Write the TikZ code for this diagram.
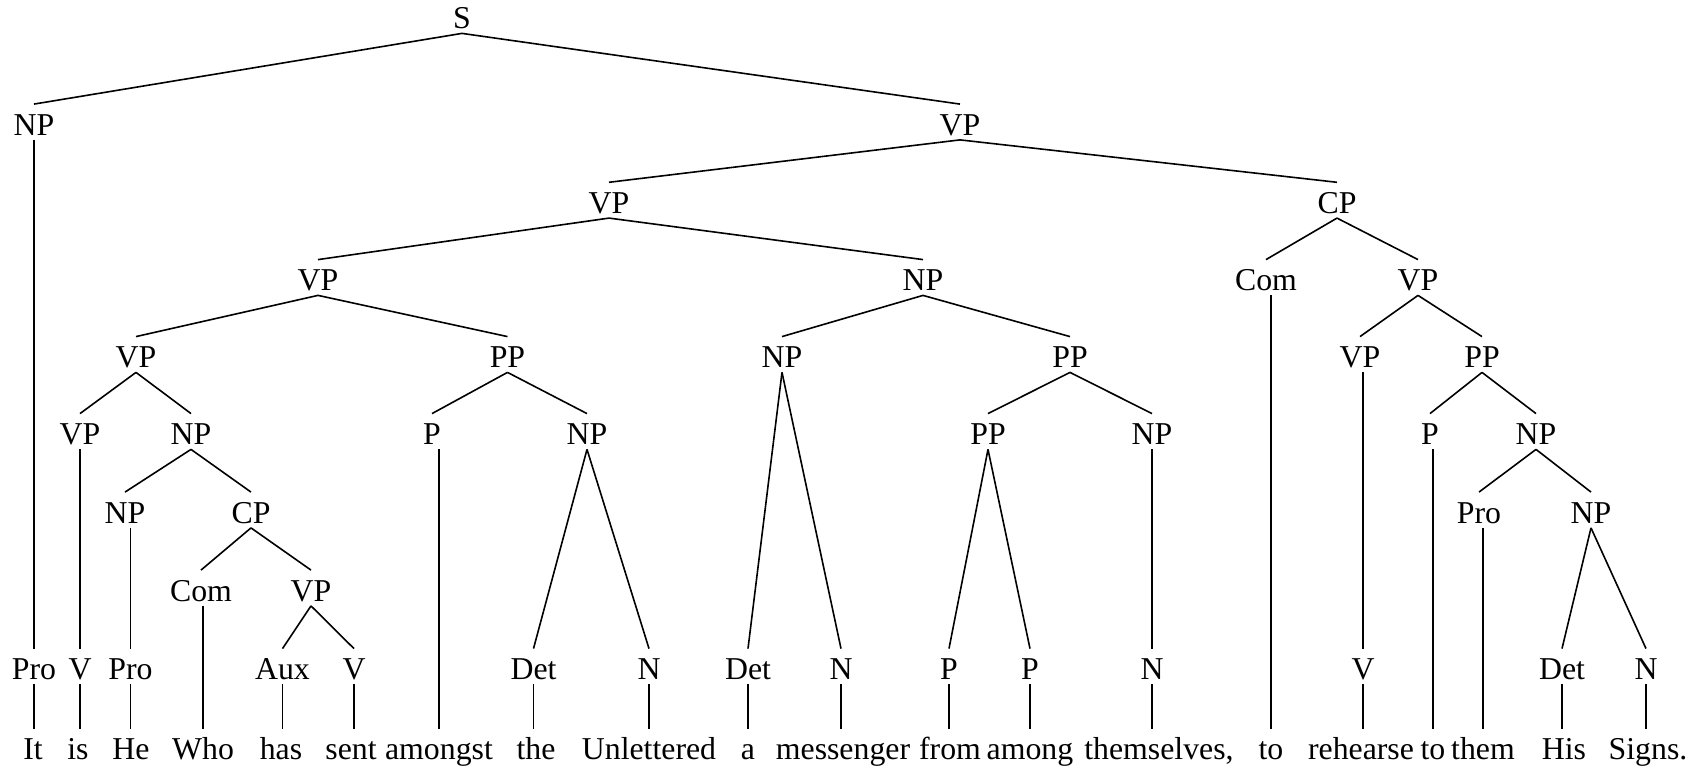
\documentclass[tikz,border=0pt]{standalone}
\usepackage{fontspec}
\setmainfont{Liberation Serif}
\begin{document}
\begin{tikzpicture}[x=0.5pt,y=-0.5pt,
  every node/.style={font=\fontsize{15.9}{19}\selectfont},
  lbl/.style={anchor=base, inner sep=0pt, text height=15.5pt, text depth=2pt},
  edge/.style={line width=0.8pt, line cap=butt}]
\useasboundingbox (0,0) rectangle (1704,769);
% row baselines
\def\rA{29}\def\rB{135.5}\def\rC{213.7}\def\rD{291}\def\rE{368}
\def\rF{445}\def\rG{523.5}\def\rH{601.5}\def\rI{680}\def\rW{760}
% tree nodes
\node[lbl] (s) at (462,\rA) {S};
\node[lbl] (np1) at (34,\rB) {NP};
\node[lbl] (vp1) at (960,\rB) {VP};
\node[lbl] (vp2) at (609,\rC) {VP};
\node[lbl] (cp2) at (1337,\rC) {CP};
\node[lbl] (vp3) at (318,\rD) {VP};
\node[lbl] (np3) at (923,\rD) {NP};
\node[lbl] (com3) at (1266,\rD) {Com};
\node[lbl] (vp3b) at (1418,\rD) {VP};
\node[lbl] (vp4) at (136,\rE) {VP};
\node[lbl] (pp4) at (507.5,\rE) {PP};
\node[lbl] (np4) at (782,\rE) {NP};
\node[lbl] (pp4b) at (1070,\rE) {PP};
\node[lbl] (vp4b) at (1360,\rE) {VP};
\node[lbl] (pp4c) at (1482,\rE) {PP};
\node[lbl] (vp5) at (80,\rF) {VP};
\node[lbl] (np5) at (191,\rF) {NP};
\node[lbl] (p5) at (432,\rF) {P};
\node[lbl] (np5b) at (587,\rF) {NP};
\node[lbl] (pp5) at (988,\rF) {PP};
\node[lbl] (np5c) at (1152,\rF) {NP};
\node[lbl] (p5b) at (1430,\rF) {P};
\node[lbl] (np5d) at (1536,\rF) {NP};
\node[lbl] (np6) at (125,\rG) {NP};
\node[lbl] (cp6) at (251,\rG) {CP};
\node[lbl] (pro6) at (1479,\rG) {Pro};
\node[lbl] (np6b) at (1591,\rG) {NP};
\node[lbl] (com7) at (201,\rH) {Com};
\node[lbl] (vp7) at (311,\rH) {VP};
% preterminals
\node[lbl] (pro8a) at (34,\rI) {Pro};
\node[lbl] (v8a) at (80,\rI) {V};
\node[lbl] (pro8b) at (130.5,\rI) {Pro};
\node[lbl] (aux8) at (282.5,\rI) {Aux};
\node[lbl] (v8b) at (354,\rI) {V};
\node[lbl] (det8a) at (533.5,\rI) {Det};
\node[lbl] (n8a) at (649,\rI) {N};
\node[lbl] (det8b) at (748,\rI) {Det};
\node[lbl] (n8b) at (841,\rI) {N};
\node[lbl] (p8a) at (949,\rI) {P};
\node[lbl] (p8b) at (1030,\rI) {P};
\node[lbl] (n8c) at (1152,\rI) {N};
\node[lbl] (v8c) at (1363,\rI) {V};
\node[lbl] (det8c) at (1562,\rI) {Det};
\node[lbl] (n8d) at (1646,\rI) {N};
% words
\node[lbl] (w1) at (33,\rW) {It};
\node[lbl] (w2) at (78,\rW) {is};
\node[lbl] (w3) at (131,\rW) {He};
\node[lbl] (w4) at (203,\rW) {Who};
\node[lbl] (w5) at (281,\rW) {has};
\node[lbl] (w6) at (351,\rW) {sent};
\node[lbl] (w7) at (439,\rW) {amongst};
\node[lbl] (w8) at (536,\rW) {the};
\node[lbl] (w9) at (649,\rW) {Unlettered};
\node[lbl] (w10) at (748,\rW) {a};
\node[lbl] (w11) at (843,\rW) {messenger};
\node[lbl] (w12) at (950,\rW) {from};
\node[lbl] (w13) at (1030,\rW) {among};
\node[lbl] (w14) at (1159,\rW) {themselves,};
\node[lbl] (w15) at (1271,\rW) {to};
\node[lbl] (w16) at (1361,\rW) {rehearse};
\node[lbl] (w17) at (1433,\rW) {to};
\node[lbl] (w18) at (1483,\rW) {them};
\node[lbl] (w19) at (1564,\rW) {His};
\node[lbl] (w20) at (1648,\rW) {Signs.};
% branching edges
\foreach \p/\c in {s/np1, s/vp1, vp1/vp2, vp1/cp2, vp2/vp3, vp2/np3,
  cp2/com3, cp2/vp3b, vp3/vp4, vp3/pp4, np3/np4, np3/pp4b,
  vp3b/vp4b, vp3b/pp4c, vp4/vp5, vp4/np5, pp4/p5, pp4/np5b,
  np4/det8b, np4/n8b, pp4b/pp5, pp4b/np5c, pp4c/p5b, pp4c/np5d,
  np5/np6, np5/cp6, np5b/det8a, np5b/n8a, pp5/p8a, pp5/p8b,
  np5d/pro6, np5d/np6b, cp6/com7, cp6/vp7, np6b/det8c, np6b/n8d,
  vp7/aux8, vp7/v8b}
  \draw[edge] (\p.south) -- (\c.north);
% unary edges (vertical at the child's x)
\foreach \p/\c in {np1/pro8a, vp5/v8a, np6/pro8b, vp4b/v8c, np5c/n8c,
  com3/w15, p5/w7, p5b/w17, pro6/w18, com7/w4}
  \draw[edge] (\c.north |- \p.south) -- (\c.north);
% preterminal to word edges (vertical at the preterminal's x)
\foreach \p/\c in {pro8a/w1, v8a/w2, pro8b/w3, aux8/w5, v8b/w6,
  det8a/w8, n8a/w9, det8b/w10, n8b/w11, p8a/w12, p8b/w13, n8c/w14,
  v8c/w16, det8c/w19, n8d/w20}
  \draw[edge] (\p.south) -- (\p.south |- \c.north);
\end{tikzpicture}
\end{document}
